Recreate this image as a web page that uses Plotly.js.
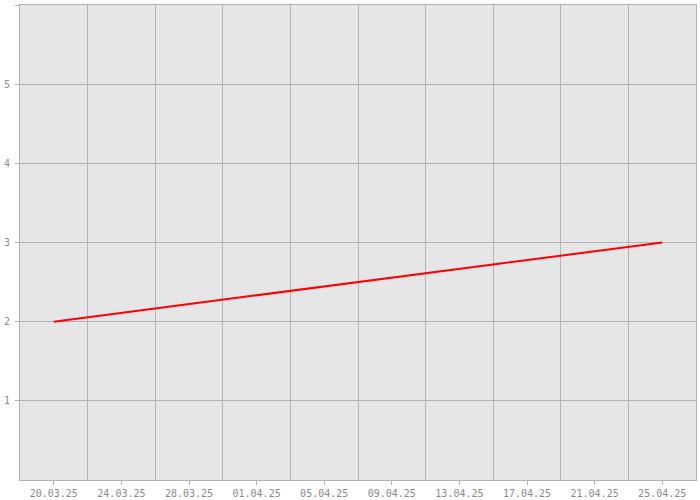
<!DOCTYPE html>
<html>
<head>
<meta charset="utf-8">
<script src="https://cdn.plot.ly/plotly-3.0.1.min.js"></script>
<style>html,body{margin:0;padding:0;background:#fff}#chart{width:700px;height:500px}</style>
</head>
<body>
<div id="chart"></div>
<script>
const dates = ['2025-03-20', '2025-04-25'];
const values = [2, 3];
const xRange = ['2025-03-18', '2025-04-27'];
const xTickStart = '2025-03-20';
const xGridStart = '2025-03-22';
const yTickVals = [1, 2, 3, 4, 5, 6];
const yTickText = ['1', '2', '3', '4', '5', ''];

const gridColor = '#b3b3b3';
const fontSpec = {family: 'DejaVu Sans Mono, monospace', size: 10, color: '#8a8a8a'};
const fourDays = 4 * 86400000;

const data = [{
  x: dates, y: values, type: 'scatter', mode: 'lines',
  line: {color: '#ff0000', width: 2}, hoverinfo: 'skip', showlegend: false
}];

const layout = {
  width: 700, height: 500,
  margin: {l: 20, r: 4, t: 5, b: 20, pad: 0},
  paper_bgcolor: '#ffffff', plot_bgcolor: '#e6e6e6',
  font: fontSpec,
  xaxis: {
    type: 'date', range: xRange, tick0: xTickStart, dtick: fourDays,
    tickformat: '%d.%m.%y', showgrid: false, zeroline: false,
    ticks: 'outside', ticklen: 4, tickcolor: gridColor, tickwidth: 1,
    showline: true, linecolor: gridColor, linewidth: 1, mirror: true,
    tickfont: fontSpec, fixedrange: true
  },
  xaxis2: {
    type: 'date', range: xRange, tick0: xGridStart, dtick: fourDays,
    overlaying: 'x', showticklabels: false, ticks: '',
    showgrid: true, gridcolor: gridColor, gridwidth: 1, zeroline: false,
    showline: false
  },
  yaxis: {
    range: [0, 6], tickmode: 'array', tickvals: yTickVals, ticktext: yTickText,
    showgrid: true, gridcolor: gridColor, gridwidth: 1, zeroline: false,
    ticks: 'outside', ticklen: 4, tickcolor: gridColor, tickwidth: 1,
    showline: true, linecolor: gridColor, linewidth: 1, mirror: true,
    tickfont: fontSpec, fixedrange: true, ticklabelstandoff: 3
  }
};

// dummy invisible trace to activate xaxis2 for grid lines
data.unshift({x: dates, y: values, xaxis: 'x2', yaxis: 'y', mode: 'lines',
  line: {width: 0, color: 'rgba(0,0,0,0)'}, hoverinfo: 'skip', showlegend: false});

Plotly.newPlot('chart', data, layout, {displayModeBar: false, staticPlot: true});
</script>
</body>
</html>
